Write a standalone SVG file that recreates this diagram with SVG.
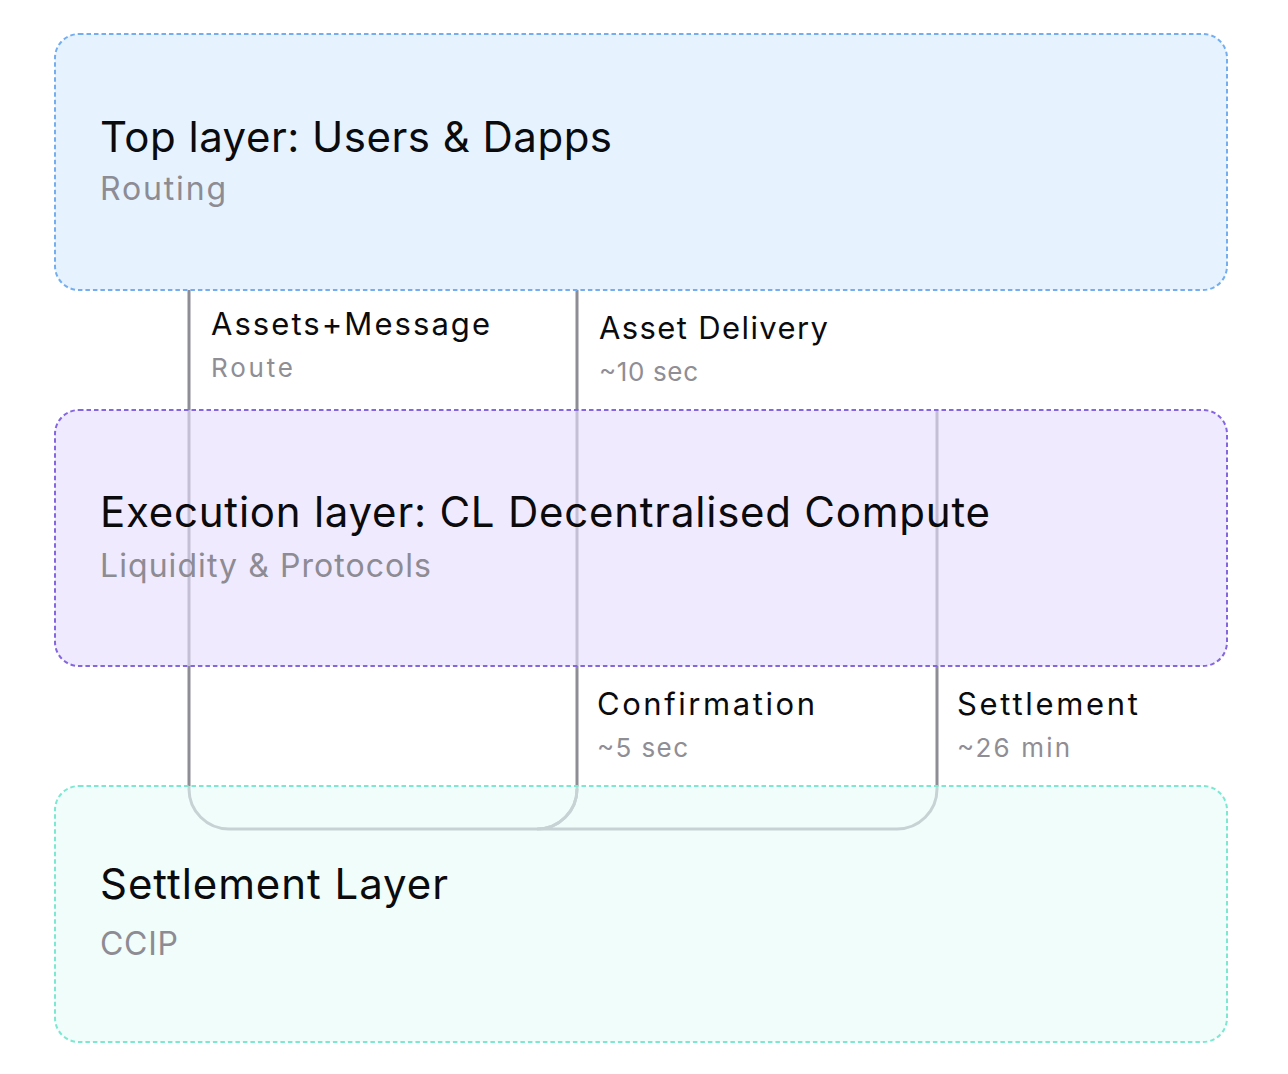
<svg xmlns="http://www.w3.org/2000/svg" width="1288" height="1074" viewBox="0 0 1288 1074">
  <style>
    text { font-family: Inter, "Open Sans", "Liberation Sans", sans-serif; }
    .title { font-size: 42px; fill: #0b0b0d; }
    .sub { font-size: 32px; fill: #8d8b93; }
    .lbl { font-size: 31px; fill: #0b0b0d; }
    .lsub { font-size: 26px; fill: #8f8e94; }
    .layer { stroke-width: 2; stroke-dasharray: 4.5 3; fill-opacity: 0.63; }
    .conn { fill: none; stroke: #8e8c94; stroke-width: 3; }
  </style>
  <rect width="1288" height="1074" fill="#ffffff"/>
  <g id="connectors">
    <path class="conn" d="M189,290 V789 A40,40 0 0 0 229,829 H537 A40,40 0 0 0 577,789 V290"/>
    <path class="conn" d="M937,410 V789 A40,40 0 0 1 897,829 H537 A40,40 0 0 0 577,789"/>
  </g>
  <g id="top-layer">
    <rect class="layer" x="55" y="34" width="1172" height="256" rx="24" fill="#d7ecfd" stroke="#74aef0"/>
    <text class="title" x="100" y="152" textLength="512">Top layer: Users &amp; Dapps</text>
    <text class="sub" x="100" y="200" textLength="126">Routing</text>
  </g>
  <g id="execution-layer">
    <rect class="layer" x="55" y="410" width="1172" height="256" rx="24" fill="#e6defc" stroke="#8466e0"/>
    <text class="title" x="100" y="527" textLength="890">Execution layer: CL Decentralised Compute</text>
    <text class="sub" x="100" y="577" textLength="331">Liquidity &amp; Protocols</text>
  </g>
  <g id="settlement-layer">
    <rect class="layer" x="55" y="786" width="1172" height="256" rx="24" fill="#e8fcf8" stroke="#7de8d0"/>
    <text class="title" x="100" y="899" textLength="348">Settlement Layer</text>
    <text class="sub" x="100" y="955" textLength="78">CCIP</text>
  </g>
  <g id="labels">
    <text class="lbl" x="211" y="335" textLength="279">Assets+Message</text>
    <text class="lsub" x="211" y="377" textLength="82">Route</text>
    <text class="lbl" x="599" y="339" textLength="229">Asset Delivery</text>
    <text class="lsub" x="599" y="381" textLength="99">~10 sec</text>
    <text class="lbl" x="597" y="715" textLength="218">Confirmation</text>
    <text class="lsub" x="597" y="757" textLength="91">~5 sec</text>
    <text class="lbl" x="957" y="715" textLength="181">Settlement</text>
    <text class="lsub" x="957" y="757" textLength="113">~26 min</text>
  </g>
</svg>
